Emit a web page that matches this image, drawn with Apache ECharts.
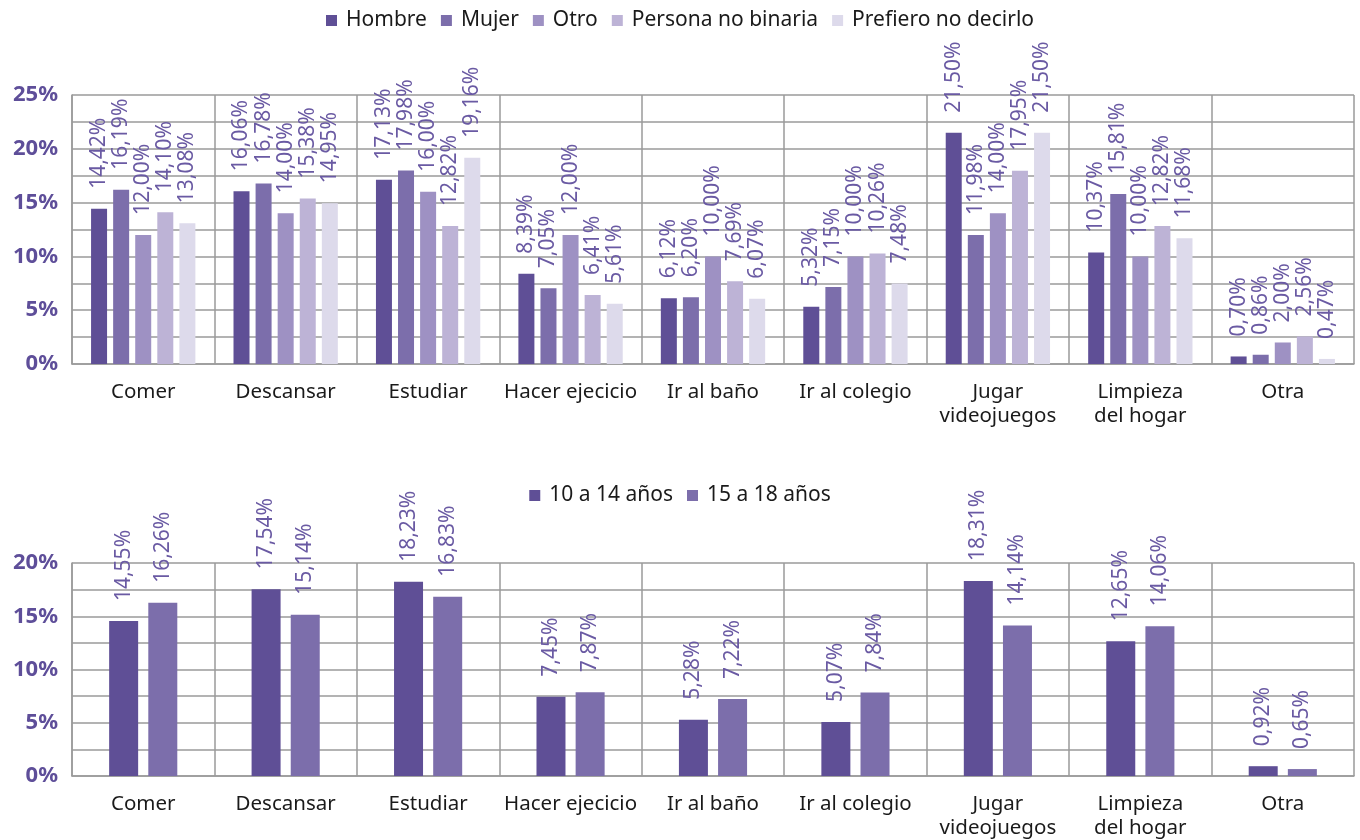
<!DOCTYPE html>
<html>
<head>
<meta charset="utf-8">
<script src="https://cdn.jsdelivr.net/npm/echarts@6/dist/echarts.min.js"></script>
<style>
html,body{margin:0;padding:0;background:#fff;}
#chart{width:1360px;height:840px;}
</style>
</head>
<body>
<div id="chart"></div>
<script>
const categories = ['Comer','Descansar','Estudiar','Hacer ejecicio','Ir al baño','Ir al colegio','Jugar\nvideojuegos','Limpieza\ndel hogar','Otra'];

const genderNames = ['Hombre','Mujer','Otro','Persona no binaria','Prefiero no decirlo'];
const hombre   = [14.42,16.06,17.13,8.39,6.12,5.32,21.50,10.37,0.70];
const mujer    = [16.19,16.78,17.98,7.05,6.20,7.15,11.98,15.81,0.86];
const otro     = [12.00,14.00,16.00,12.00,10.00,10.00,14.00,10.00,2.00];
const noBinaria= [14.10,15.38,12.82,6.41,7.69,10.26,17.95,12.82,2.56];
const prefiero = [13.08,14.95,19.16,5.61,6.07,7.48,21.50,11.68,0.47];

const ageNames = ['10 a 14 años','15 a 18 años'];
const age10_14 = [14.55,17.54,18.23,7.45,5.28,5.07,18.31,12.65,0.92];
const age15_18 = [16.26,15.14,16.83,7.87,7.22,7.84,14.14,14.06,0.65];

const topTicks = [0,5,10,15,20,25];
const bottomTicks = [0,5,10,15,20];

const genderColors = ['#5f4f96','#7c6eab','#9e91c3','#bdb3d6','#dddaeb'];
const ageColors = ['#5f4f96','#7c6eab'];

const FONT = '"Noto Sans", "Open Sans", sans-serif';
const gridColor = '#9a9a9a';
const labelPurple = '#6a5aa3';

function fmt(v){ return v.toFixed(2).replace('.', ',') + '%'; }

const dataLabel = {
  show: true, position: 'top', rotate: 90, distance: 20,
  align: 'left', verticalAlign: 'middle',
  color: labelPurple, fontSize: 21, fontFamily: FONT,
  formatter: p => fmt(p.value)
};

function xAxisDef(gridIndex){
  return {
    type: 'category', gridIndex, data: categories,
    axisTick: {show:false},
    axisLine: {lineStyle:{color:gridColor, width:1.5}},
    splitLine: {show:true, interval:0, lineStyle:{color:gridColor, width:1.5}},
    axisLabel: {interval:0, color:'#1a1a1a', fontSize:20.5, fontFamily:FONT, lineHeight:24, margin:16}
  };
}
function yAxisDef(gridIndex, max, ticks){
  return {
    type: 'value', gridIndex, min: 0, max: max, interval: 2.5,
    axisLine: {show:true, lineStyle:{color:gridColor, width:1.5}},
    axisTick: {show:false},
    splitLine: {show:true, lineStyle:{color:gridColor, width:1.5}},
    axisLabel: {
      color:'#5e4e99', fontSize:22, fontWeight:'bold', fontFamily:FONT, margin:14,
      formatter: v => ticks.indexOf(v) >= 0 ? v + '%' : ''
    }
  };
}

const genderData = [hombre, mujer, otro, noBinaria, prefiero];
const ageData = [age10_14, age15_18];

const series = [];
genderData.forEach((d,i) => {
  series.push({
    name: genderNames[i], type:'bar', xAxisIndex:0, yAxisIndex:0,
    data: d, barWidth: 16, barGap: '38%',
    itemStyle: {color: genderColors[i]},
    label: dataLabel
  });
});
ageData.forEach((d,i) => {
  series.push({
    name: ageNames[i], type:'bar', xAxisIndex:1, yAxisIndex:1,
    data: d, barWidth: 29, barGap: '35%',
    itemStyle: {color: ageColors[i]},
    label: dataLabel
  });
});

const legendText = {color:'#1a1a1a', fontSize:21, fontFamily:FONT, padding:[0,0,0,4]};

const option = {
  backgroundColor: '#fff',
  animation: false,
  legend: [
    {data: genderNames, top: 5, left: 'center', icon: 'rect', itemWidth: 11, itemHeight: 11, itemGap: 14, textStyle: legendText},
    {data: ageNames, top: 480, left: 'center', icon: 'rect', itemWidth: 11, itemHeight: 11, itemGap: 14, textStyle: legendText}
  ],
  grid: [
    {left: 72, right: 6, top: 95, height: 269},
    {left: 72, right: 6, top: 563, height: 216}
  ],
  xAxis: [xAxisDef(0), xAxisDef(1)],
  yAxis: [yAxisDef(0, 25, topTicks), yAxisDef(1, 20, bottomTicks)],
  series: series
};

const chart = echarts.init(document.getElementById('chart'));
chart.setOption(option);
</script>
</body>
</html>
